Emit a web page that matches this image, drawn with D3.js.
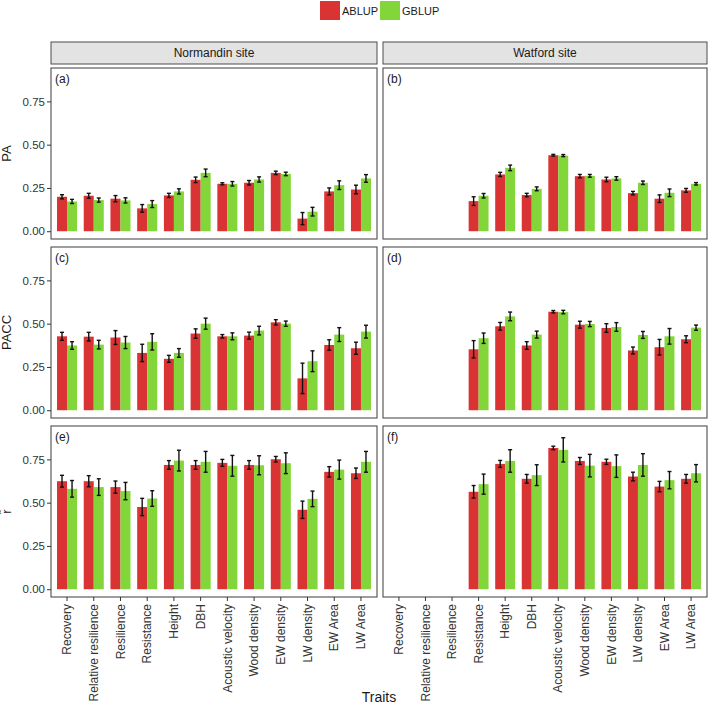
<!DOCTYPE html>
<html>
<head>
<meta charset="utf-8">
<script src="https://cdn.jsdelivr.net/npm/d3@7"></script>
<style>
  body { margin: 0; background: #fff; }
  svg { display: block; font-family: "Liberation Sans", Arial, sans-serif; }
</style>
</head>
<body>
<div id="chart"></div>
<script>
// ---- data ----
const traits = ['Recovery', 'Relative resilience', 'Resilience', 'Resistance', 'Height', 'DBH',
    'Acoustic velocity', 'Wood density', 'EW density', 'LW density', 'EW Area', 'LW Area'];
const sites = ['Normandin site', 'Watford site'];
const models = ['ABLUP', 'GBLUP'];
const metrics = ['PA', 'PACC', 'r\u0302'];
const panelTags = ['(a)', '(b)', '(c)', '(d)', '(e)', '(f)'];
const yTicks = [0, 0.25, 0.5, 0.75];

// Normandin, PA
const normPA_A = [0.199, 0.205, 0.188, 0.132, 0.207, 0.297, 0.274, 0.280, 0.337, 0.073, 0.230, 0.241];
const normPA_G = [0.172, 0.180, 0.178, 0.157, 0.230, 0.337, 0.274, 0.299, 0.331, 0.113, 0.266, 0.305];
const normPA_Aerr = [0.012, 0.014, 0.018, 0.022, 0.012, 0.016, 0.006, 0.013, 0.010, 0.035, 0.020, 0.025];
const normPA_Gerr = [0.012, 0.012, 0.015, 0.020, 0.015, 0.022, 0.013, 0.015, 0.010, 0.025, 0.025, 0.022];
// Watford, PA
const watPA_A = [null, null, null, 0.174, 0.328, 0.209, 0.439, 0.318, 0.299, 0.220, 0.188, 0.236];
const watPA_G = [null, null, null, 0.205, 0.366, 0.245, 0.437, 0.320, 0.305, 0.280, 0.222, 0.274];
const watPA_Aerr = [null, null, null, 0.025, 0.012, 0.010, 0.005, 0.010, 0.013, 0.010, 0.022, 0.011];
const watPA_Gerr = [null, null, null, 0.013, 0.016, 0.011, 0.006, 0.008, 0.010, 0.010, 0.022, 0.007];
// Normandin, PACC
const normPACC_A = [0.427, 0.425, 0.420, 0.331, 0.297, 0.443, 0.427, 0.431, 0.508, 0.184, 0.377, 0.358];
const normPACC_G = [0.374, 0.379, 0.391, 0.395, 0.331, 0.500, 0.427, 0.460, 0.500, 0.283, 0.437, 0.454];
const normPACC_Aerr = [0.023, 0.025, 0.040, 0.050, 0.020, 0.027, 0.010, 0.020, 0.015, 0.088, 0.030, 0.035];
const normPACC_Gerr = [0.022, 0.025, 0.035, 0.047, 0.025, 0.032, 0.020, 0.025, 0.015, 0.060, 0.040, 0.037];
// Watford, PACC
const watPACC_A = [null, null, null, 0.352, 0.485, 0.374, 0.569, 0.494, 0.475, 0.345, 0.364, 0.410];
const watPACC_G = [null, null, null, 0.416, 0.542, 0.437, 0.567, 0.498, 0.481, 0.435, 0.427, 0.477];
const watPACC_Aerr = [null, null, null, 0.050, 0.022, 0.022, 0.007, 0.020, 0.025, 0.020, 0.045, 0.020];
const watPACC_Gerr = [null, null, null, 0.030, 0.025, 0.020, 0.010, 0.015, 0.025, 0.020, 0.045, 0.015];
// Normandin, r-hat
const normR_A = [0.624, 0.624, 0.590, 0.475, 0.718, 0.718, 0.730, 0.718, 0.751, 0.459, 0.678, 0.670];
const normR_G = [0.580, 0.590, 0.567, 0.524, 0.743, 0.736, 0.713, 0.716, 0.728, 0.522, 0.691, 0.736];
const normR_Aerr = [0.034, 0.032, 0.035, 0.050, 0.025, 0.025, 0.020, 0.025, 0.016, 0.050, 0.030, 0.030];
const normR_Gerr = [0.048, 0.048, 0.050, 0.045, 0.060, 0.060, 0.060, 0.055, 0.060, 0.045, 0.055, 0.060];
// Watford, r-hat
const watR_A = [null, null, null, 0.563, 0.724, 0.638, 0.816, 0.741, 0.736, 0.651, 0.593, 0.638];
const watR_G = [null, null, null, 0.607, 0.741, 0.659, 0.805, 0.714, 0.711, 0.718, 0.630, 0.670];
const watR_Aerr = [null, null, null, 0.036, 0.020, 0.025, 0.010, 0.020, 0.015, 0.025, 0.030, 0.025];
const watR_Gerr = [null, null, null, 0.058, 0.065, 0.060, 0.070, 0.065, 0.065, 0.065, 0.050, 0.050];

// panels in row-major order: [metric][site]
const panels = [
    [[normPA_A, normPA_G, normPA_Aerr, normPA_Gerr], [watPA_A, watPA_G, watPA_Aerr, watPA_Gerr]],
    [[normPACC_A, normPACC_G, normPACC_Aerr, normPACC_Gerr], [watPACC_A, watPACC_G, watPACC_Aerr, watPACC_Gerr]],
    [[normR_A, normR_G, normR_Aerr, normR_Gerr], [watR_A, watR_G, watR_Aerr, watR_Gerr]],
];

// ---- layout ----
const width = 709, height = 706;
const colX = [[51, 377], [383, 707]];
const rowY = [[68, 239], [247, 418], [426, 597]];
const strip = { top: 42, bottom: 64 };
const COL = { ABLUP: '#DA3333', GBLUP: '#82D63A', ink: '#1a1a1a', axis: '#333', border: '#4d4d4d' };
const FONT = '"Liberation Sans", Arial, sans-serif';

const svg = d3.select('#chart').append('svg')
    .attr('width', width).attr('height', height);

const color = d3.scaleOrdinal().domain(models).range([COL.ABLUP, COL.GBLUP]);

// Legend on top
const legend = svg.append('g');
[[320, 'ABLUP'], [380, 'GBLUP']].forEach(([lx, m]) => {
    legend.append('rect').attr('x', lx).attr('y', 1).attr('width', 20).attr('height', 19)
        .attr('fill', color(m));
    legend.append('text').attr('x', lx + 22).attr('y', 15)
        .attr('fill', COL.ink).style('font-size', '11px').text(m);
});

// Strips
sites.forEach((s, c) => {
    const [x0, x1] = colX[c];
    svg.append('rect').attr('x', x0).attr('y', strip.top)
        .attr('width', x1 - x0).attr('height', strip.bottom - strip.top)
        .attr('fill', '#e3e3e3').attr('stroke', COL.border).attr('stroke-width', 1);
    svg.append('text').attr('x', (x0 + x1) / 2).attr('y', (strip.top + strip.bottom) / 2)
        .attr('dy', '0.35em').attr('text-anchor', 'middle')
        .attr('fill', COL.ink).style('font-size', '12px').text(s);
});

const yMax = 0.898; // top of tallest error bar, ggplot adds 5% on each side
panels.forEach((row, r) => {
    const [y0, y1] = rowY[r];
    const y = d3.scaleLinear().domain([-0.05 * yMax, 1.05 * yMax]).range([y1, y0]);

    row.forEach(([valA, valG, errA, errG], c) => {
        const [x0, x1] = colX[c];
        const x = d3.scaleBand().domain(traits).range([x0, x1])
            .paddingInner(0.25).paddingOuter(0.225);
        const xm = d3.scaleBand().domain(models).range([0, x.bandwidth()]);
        const g = svg.append('g');

        const recs = [];
        traits.forEach((t, i) => {
            if (valA[i] != null) recs.push({ t, m: 'ABLUP', v: valA[i], e: errA[i] });
            if (valG[i] != null) recs.push({ t, m: 'GBLUP', v: valG[i], e: errG[i] });
        });

        g.selectAll('rect.bar').data(recs).enter().append('rect')
            .attr('class', 'bar')
            .attr('x', (d) => x(d.t) + xm(d.m))
            .attr('width', xm.bandwidth())
            .attr('y', (d) => y(d.v))
            .attr('height', (d) => y(0) - y(d.v))
            .attr('fill', (d) => color(d.m));

        // error bars
        const eb = g.selectAll('g.err').data(recs).enter().append('g')
            .attr('class', 'err')
            .attr('stroke', '#111').attr('stroke-width', 1.4);
        const cx = (d) => x(d.t) + xm(d.m) + xm.bandwidth() / 2;
        eb.append('line')
            .attr('x1', cx).attr('x2', cx)
            .attr('y1', (d) => y(d.v - d.e)).attr('y2', (d) => y(d.v + d.e));
        eb.append('line')
            .attr('x1', (d) => cx(d) - 2).attr('x2', (d) => cx(d) + 2)
            .attr('y1', (d) => y(d.v + d.e)).attr('y2', (d) => y(d.v + d.e));
        eb.append('line')
            .attr('x1', (d) => cx(d) - 2).attr('x2', (d) => cx(d) + 2)
            .attr('y1', (d) => y(d.v - d.e)).attr('y2', (d) => y(d.v - d.e));

        // panel border
        svg.append('rect').attr('x', x0).attr('y', y0)
            .attr('width', x1 - x0).attr('height', y1 - y0)
            .attr('fill', 'none').attr('stroke', COL.border).attr('stroke-width', 1.1);

        svg.append('text').attr('x', x0 + 4).attr('y', y0 + 15)
            .attr('fill', COL.ink).style('font-size', '12px').text(panelTags[r * 2 + c]);

        // y axis only on the left column
        if (c === 0) {
            const ya = svg.append('g').attr('transform', `translate(${x0},0)`)
                .attr('font-size', null).attr('font-family', null)
                .call(d3.axisLeft(y).tickValues(yTicks).tickFormat(d3.format('.2f')).tickSize(4).tickPadding(2));
            ya.attr('font-size', '11.5px').attr('font-family', FONT);
            ya.select('.domain').remove();
            ya.selectAll('line').attr('stroke', COL.axis);
            ya.selectAll('text').attr('fill', COL.axis);
            svg.append('text')
                .attr('transform', `translate(11,${(y0 + y1) / 2}) rotate(-90)`)
                .attr('text-anchor', 'middle')
                .attr('fill', COL.ink).style('font-size', '13px').text(metrics[r]);
        }

        // x axis on bottom row
        if (r === rowY.length - 1) {
            const xa = svg.append('g').attr('transform', `translate(0,${y1})`)
                .call(d3.axisBottom(x).tickSize(4).tickPadding(3));
            xa.attr('font-size', '12px').attr('font-family', FONT);
            xa.select('.domain').remove();
            xa.selectAll('line').attr('stroke', COL.axis);
            xa.selectAll('text')
                .attr('transform', 'rotate(-90)')
                .attr('text-anchor', 'end')
                .attr('x', -7).attr('y', 0).attr('dy', '0.35em')
                .attr('fill', COL.axis);
        }
    });
});

svg.append('text').attr('x', (colX[0][0] + colX[1][1]) / 2).attr('y', 702)
    .attr('text-anchor', 'middle').attr('fill', COL.ink)
    .style('font-size', '14px').text('Traits');
</script>
</body>
</html>
